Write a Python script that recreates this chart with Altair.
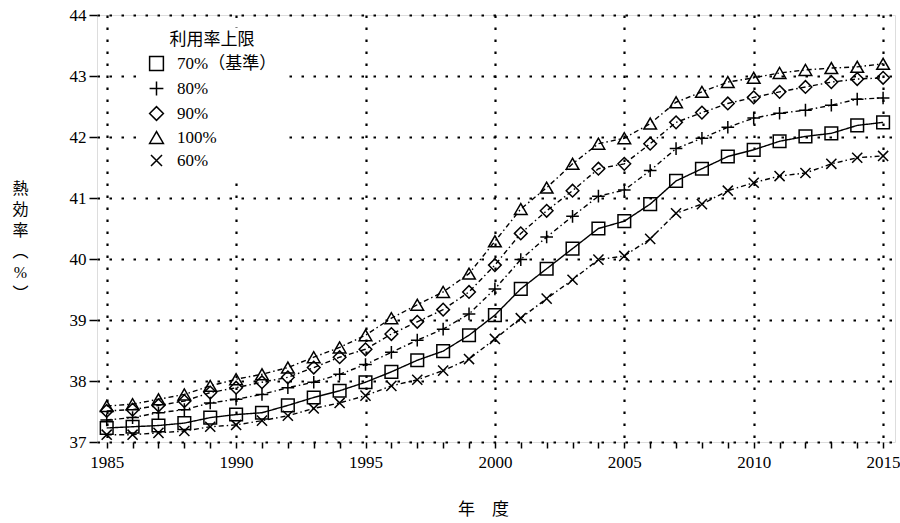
import altair as alt
import pandas as pd

years = list(range(1985, 2016))

s70 = [37.23, 37.25, 37.27, 37.31, 37.40, 37.45, 37.48, 37.60, 37.73, 37.84,
       37.98, 38.15, 38.34, 38.49, 38.75, 39.08, 39.51, 39.84, 40.17, 40.50,
       40.62, 40.90, 41.28, 41.48, 41.68, 41.79, 41.93, 42.01, 42.06, 42.19, 42.24]
s80 = [37.36, 37.40, 37.48, 37.53, 37.64, 37.70, 37.78, 37.89, 37.98, 38.11,
       38.27, 38.47, 38.67, 38.85, 39.10, 39.51, 39.99, 40.36, 40.70, 41.03,
       41.13, 41.45, 41.81, 41.98, 42.16, 42.31, 42.39, 42.44, 42.52, 42.62, 42.64]
s90 = [37.51, 37.53, 37.60, 37.67, 37.81, 37.89, 37.98, 38.06, 38.22, 38.39,
       38.52, 38.77, 38.97, 39.17, 39.46, 39.90, 40.42, 40.79, 41.12, 41.48,
       41.56, 41.89, 42.24, 42.40, 42.55, 42.65, 42.74, 42.82, 42.90, 42.95, 42.97]
s100 = [37.59, 37.62, 37.70, 37.78, 37.92, 38.03, 38.11, 38.22, 38.39, 38.55,
        38.75, 39.03, 39.25, 39.46, 39.76, 40.29, 40.82, 41.17, 41.56, 41.89,
        41.98, 42.22, 42.57, 42.74, 42.90, 42.97, 43.05, 43.10, 43.13, 43.15, 43.20]
s60 = [37.12, 37.12, 37.15, 37.18, 37.25, 37.28, 37.35, 37.43, 37.55, 37.64,
       37.76, 37.92, 38.02, 38.17, 38.36, 38.69, 39.03, 39.35, 39.66, 39.99,
       40.05, 40.33, 40.75, 40.90, 41.12, 41.25, 41.36, 41.41, 41.56, 41.66, 41.69]

series_names = ["70%（基準）", "80%", "90%", "100%", "60%"]
series_values = [s70, s80, s90, s100, s60]
y_ticks = [37, 38, 39, 40, 41, 42, 43, 44]

rows = []
for name, vals in zip(series_names, series_values):
    for yr, v in zip(years, vals):
        rows.append({"year": yr, "value": v, "series": name, "line": name})
df = pd.DataFrame(rows)

FONT = "Liberation Serif, Noto Sans CJK JP"
plus_path = "M-1,0L1,0M0,-1L0,1"
x_path = "M-0.8,-0.8L0.8,0.8M-0.8,0.8L0.8,-0.8"

x_axis = alt.Axis(
    values=years, format="d",
    labelExpr="(datum.value % 5 === 0) ? ('' + datum.value) : ''",
    labelOverlap=False, labelBound=False, labelFlush=False,
    title="年　度", titleFont=FONT, titleFontSize=17, titleFontWeight="normal",
    titleX=386, titleY=67, titleBaseline="middle", titleAnchor="start", titleAlign="center",
    grid=True, gridColor="black", gridDash=[2.5, 9.5], gridWidth=2.2,
    gridOpacity={"condition": {"test": "datum.value % 5 === 0", "value": 1}, "value": 0},
    tickSize=6, tickColor="black", tickWidth=1.5,
    labelFont=FONT, labelFontSize=17, labelColor="black", labelPadding=6,
    domain=False,
)
x_scale = alt.Scale(domain=[1984.625, 2015.46], nice=False, zero=False)

y_axis = alt.Axis(
    values=y_ticks, format="d", labelOverlap=False,
    title=["熱", "効", "率", "︵", "%", "︶"], titleAngle=0,
    titleFont=FONT, titleFontSize=16, titleFontWeight="normal", titleLineHeight=21,
    titleX=-77, titleY=165, titleAlign="center", titleBaseline="top",
    grid=True, gridColor="black", gridDash=[2.5, 9.5], gridWidth=2.2,
    tickSize=8, tickColor="black", tickWidth=1.5,
    labelFont=FONT, labelFontSize=17, labelColor="black", labelPadding=3,
    domain=False,
)
y_scale = alt.Scale(domain=[37, 44], nice=False, zero=False)

lines = alt.Chart(df).mark_line(color="black", strokeWidth=1.4).encode(
    x=alt.X("year:Q", scale=x_scale, axis=x_axis),
    y=alt.Y("value:Q", scale=y_scale, axis=y_axis),
    strokeDash=alt.StrokeDash(
        "line:N",
        scale=alt.Scale(domain=series_names,
                        range=[[1, 0], [5, 3, 1.5, 3], [5, 3, 1.5, 3], [5, 3, 1.5, 3], [5, 3, 1.5, 3]]),
        legend=None,
    ),
)

points = alt.Chart(df).mark_point(
    filled=False, color="black", strokeWidth=1.5, size=160, opacity=1
).encode(
    x=alt.X("year:Q", scale=x_scale, axis=x_axis),
    y=alt.Y("value:Q", scale=y_scale, axis=y_axis),
    shape=alt.Shape(
        "series:N",
        scale=alt.Scale(domain=series_names,
                        range=["square", plus_path, "diamond", "triangle-up", x_path]),
        legend=alt.Legend(
            title="利用率上限", orient="none", legendX=47, legendY=13,
            fillColor="white", padding=4,
            titleFont=FONT, titleFontSize=17, titleFontWeight="normal", titleColor="black",
            titleAnchor="middle", titlePadding=6,
            labelFont=FONT, labelFontSize=17, labelColor="black", labelOffset=12,
            symbolSize=190, symbolStrokeWidth=1.5, symbolStrokeColor="black",
            symbolFillColor="transparent", rowPadding=4,
        ),
    ),
)

chart = alt.layer(lines, points).resolve_legend(
    shape="independent", strokeDash="independent"
).properties(
    width=798, height=427,
    autosize=alt.AutoSizeParams(type="none"),
    padding={"left": 97, "top": 15, "right": 5, "bottom": 81},
).configure_view(
    stroke="black", strokeWidth=2.2
).configure_axis(
    labelOverlap=False
).configure(background="white")

chart.save("out.html", embed_options={"renderer": "svg", "actions": False})
